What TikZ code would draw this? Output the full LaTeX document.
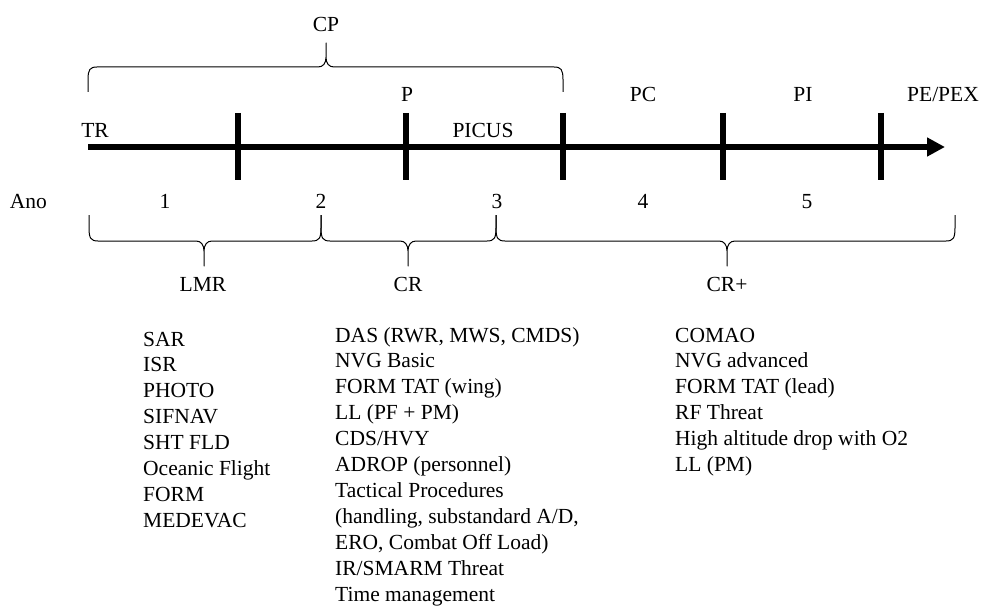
\documentclass[tikz,border=0pt]{standalone}
\usepackage{fontspec}
\setmainfont{Liberation Serif}
\usetikzlibrary{arrows.meta}
% #1 x left, #2 x right, #3 x tip, #4 y of ends, #5 y of long line, #6 y of tip
\newcommand{\mybrace}[6]{%
  \draw[bracepath] (#1,#4) -- (#1,{#5+0.5*(#4-#5)})
    .. controls (#1,{#5+0.1*(#4-#5)}) and ({#1+2},#5) .. ({#1+9},#5)
    -- ({#3-8},#5)
    .. controls ({#3-3},#5) and (#3,{#5+0.15*(#6-#5)}) .. (#3,{#5+0.4*(#6-#5)})
    -- (#3,#6) -- (#3,{#5+0.4*(#6-#5)})
    .. controls (#3,{#5+0.15*(#6-#5)}) and ({#3+3},#5) .. ({#3+8},#5)
    -- ({#2-9},#5)
    .. controls ({#2-2},#5) and (#2,{#5+0.1*(#4-#5)}) .. (#2,{#5+0.5*(#4-#5)})
    -- (#2,#4);}
\begin{document}
\begin{tikzpicture}[x=1pt,y=-1pt,
  lbl/.style={font=\fontsize{21.5}{25.9}\selectfont, inner sep=0pt, anchor=base},
  item/.style={lbl, anchor=base west},
  axisline/.style={line width=6pt, -{Triangle[length=18pt,width=18pt]}},
  tickmark/.style={line width=6pt},
  bracepath/.style={line width=1pt, line join=round}]
\useasboundingbox (0,0) rectangle (982,607);

% timeline
\coordinate (start) at (88,147);
\coordinate (stop) at (945,147);
\draw[axisline] (start) -- (stop);
\foreach \x [count=\i] in {238,406,563,723,881}{
  \coordinate (tt\i) at (\x,113);
  \coordinate (tb\i) at (\x,180);
  \draw[tickmark] (tt\i) -- (tb\i);
}

% braces
\mybrace{88}{563}{326}{92}{67}{43}
\mybrace{89}{321}{204}{215}{241}{266}
\mybrace{321}{496}{408}{215}{241}{266}
\mybrace{496}{955}{727}{215}{241}{266}

% labels above
\node[lbl] (cp) at (326,32) {CP};
\node[lbl] (tr) at (95,137) {TR};
\node[lbl] (p) at (407,102) {P};
\node[lbl] (picus) at (483,137) {PICUS};
\node[lbl] (pc) at (643,102) {PC};
\node[lbl] (pi) at (803,102) {PI};
\node[lbl] (pe) at (943,102) {PE/PEX};

% years
\node[lbl, anchor=base east] (ano) at (47,208) {Ano};
\foreach \x [count=\i] in {165,321,497,643,807}{
  \node[lbl] (y\i) at (\x,208) {\i};
}

% brace labels
\node[lbl] (lmr) at (203,291) {LMR};
\node[lbl] (cr) at (408,291) {CR};
\node[lbl] (crp) at (727,291) {CR+};

% lists
\foreach \t [count=\i] in {SAR,ISR,PHOTO,SIFNAV,SHT FLD,Oceanic Flight,FORM,MEDEVAC}{
  \node[item] (a\i) at (143,{346+(\i-1)*25.9}) {\t};
}
\foreach \t [count=\i] in {{DAS (RWR, MWS, CMDS)},NVG Basic,FORM TAT (wing),LL (PF + PM),CDS/HVY,ADROP (personnel),Tactical Procedures,{(handling, substandard A/D,},{ERO, Combat Off Load)},IR/SMARM Threat,Time management}{
  \node[item] (b\i) at (335,{342+(\i-1)*25.9}) {\t};
}
\foreach \t [count=\i] in {COMAO,NVG advanced,FORM TAT (lead),RF Threat,High altitude drop with O2,LL (PM)}{
  \node[item] (c\i) at (675,{342+(\i-1)*25.9}) {\t};
}
\end{tikzpicture}
\end{document}
